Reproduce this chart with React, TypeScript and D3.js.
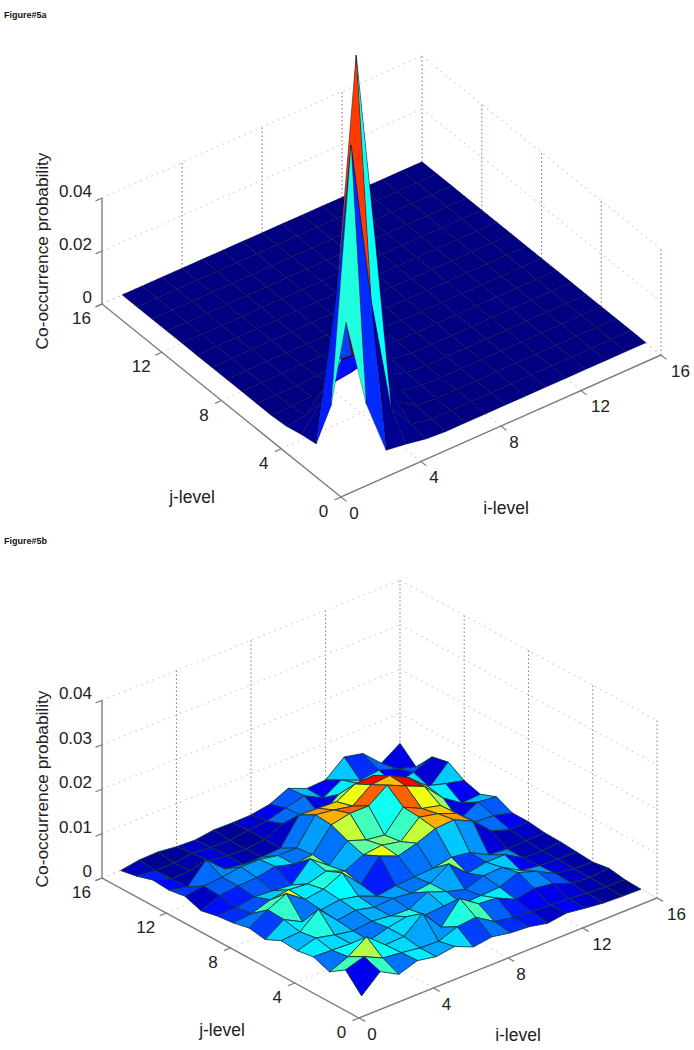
import React from "react";
import * as d3 from "d3";

// Heights in units of 1e-4; rows run j=16..1, columns i=1..16
const zRowsA: number[][] = [
  [1,1,1,1,1,1,1,1,1,1,1,1,1,1,1,1],
  [1,1,1,1,1,1,1,1,1,1,1,1,1,1,1,1],
  [1,1,1,1,1,1,1,1,1,1,1,1,1,1,1,1],
  [1,1,1,1,1,1,1,1,1,1,1,1,1,1,1,1],
  [1,1,1,1,1,1,1,1,1,1,1,2,1,1,1,1],
  [1,1,1,1,1,1,1,1,1,1,2,1,1,1,1,1],
  [1,1,1,1,1,1,1,1,1,3,1,1,1,1,1,1],
  [1,1,1,1,1,1,1,1,4,1,1,1,1,1,1,1],
  [1,1,1,1,1,1,1,5,1,1,1,1,1,1,1,1],
  [1,1,1,5,8,12,15,3,1,1,1,1,1,1,1,1],
  [1,1,8,20,30,50,12,1,1,1,1,1,1,1,1,1],
  [6,15,100,200,180,30,8,1,1,1,1,1,1,1,1,1],
  [20,110,234,230,150,20,5,1,1,1,1,1,1,1,1,1],
  [30,550,1430,660,60,8,1,1,1,1,1,1,1,1,1,1],
  [220,1170,550,110,15,2,1,1,1,1,1,1,1,1,1,1],
  [580,240,30,20,6,1,1,1,1,1,1,1,1,1,1,1],
];
const zRowsB: number[][] = [
  [0,7,8,3,1,7,6,7,14,33,16,18,53,44,5,33],
  [7,2,3,8,4,3,9,13,25,36,14,38,20,26,12,0],
  [18,4,5,10,5,3,8,27,28,12,42,50,42,14,24,42],
  [15,5,49,12,5,5,8,66,64,62,85,87,30,40,10,50],
  [21,27,30,36,36,28,28,86,80,72,103,107,85,50,38,28],
  [8,25,30,32,40,28,33,83,92,92,122,103,85,42,14,17],
  [16,18,25,22,18,60,28,67,52,46,92,72,62,12,36,31],
  [20,24,38,44,40,52,35,55,60,51,89,80,64,28,25,14],
  [28,52,72,42,48,68,25,72,55,67,83,86,66,27,13,14],
  [22,50,28,38,44,35,18,25,28,30,38,32,10,6,8,9],
  [39,42,76,34,40,30,33,28,33,60,22,30,30,6,5,8],
  [36,48,38,30,35,30,28,50,34,22,36,38,14,8,6,5],
  [42,40,38,28,40,48,35,38,26,28,30,46,32,10,4,2],
  [28,45,73,38,40,75,27,75,46,42,22,30,24,8,4,8],
  [52,65,45,40,34,32,48,52,26,18,14,12,10,5,3,2],
  [13,51,28,42,34,40,22,28,20,17,8,14,8,3,1,0],
];
const levelTicks = [0, 4, 8, 12, 16];
const zTicksA = [0, 0.02, 0.04];
const zTicksB = [0, 0.01, 0.02, 0.03, 0.04];
const cellColourA = [
  { i: 3, j: 4, value: 20 },
  { i: 4, j: 3, value: 30 },
  { i: 2, j: 4, value: 15 },
  { i: 4, j: 2, value: 30 },
  { i: 3, j: 5, value: 10 },
  { i: 5, j: 3, value: 10 },
  { i: 2, j: 5, value: 5 },
  { i: 5, j: 2, value: 5 },
];
const cellColourB = [{ i: 11, j: 11, value: 81 }];
const foldA = [
  { i: 1, j: 1, z: 580 },
  { i: 1, j: 1.53, z: 415 },
  { i: 1.3, j: 1, z: 446 },
];

const FONT = "'Liberation Sans', Arial, sans-serif";
const clamp = (v: number) => Math.max(0, Math.min(1, v));
const jet = (t: number) => {
  const f = (c: number) => Math.round(255 * clamp(1.5 - Math.abs(4 * t - c)));
  return d3.rgb(f(3), f(2), f(1)).formatHex();
};

type Geo = {
  front: [number, number];
  left: [number, number];
  right: [number, number];
};

function Panel(props: {
  label: string;
  labelY: number;
  geo: Geo;
  zPx: number; // pixels per unit of z
  zRows: number[][];
  zTicks: number[];
  zFmt: (v: number) => string;
  clim: number;
  edge: string;
  edgeWidth: number;
  vCol: string;
  overrides?: { i: number; j: number; value: number }[];
  fold?: { i: number; j: number; z: number }[];
  titleY: number;
  jPos: [number, number];
  iPos: [number, number];
}) {
  const { geo, zRows, zTicks, zFmt, clim, edge, edgeWidth, vCol, zPx } = props;
  const [fx, fy] = geo.front;
  const ixS = d3.scaleLinear().domain([0, 16]).range([0, geo.right[0] - fx]);
  const iyS = d3.scaleLinear().domain([0, 16]).range([0, geo.right[1] - fy]);
  const jxS = d3.scaleLinear().domain([0, 16]).range([0, geo.left[0] - fx]);
  const jyS = d3.scaleLinear().domain([0, 16]).range([0, geo.left[1] - fy]);
  const zS = d3.scaleLinear().domain([0, 1]).range([0, zPx]);
  const P = (i: number, j: number, z: number): [number, number] => [
    fx + ixS(i) + jxS(j),
    fy + iyS(i) + jyS(j) - zS(z),
  ];
  const zAt = (i: number, j: number) => zRows[16 - j][i - 1] * 1e-4;
  const line = d3.line();

  const cells: { k: string; d: string; c: string }[] = [];
  for (let v = 30; v >= 2; v--) {
    for (let i = 1; i <= 15; i++) {
      const j = v - i;
      if (j < 1 || j > 15) continue;
      if (props.fold && i === 1 && j === 1) {
        const pts = props.fold.map((q) => P(q.i, q.j, q.z * 1e-4));
        cells.push({ k: "fold", d: line(pts) + "Z", c: "#0a3ff0" });
      }
      const ov = props.overrides?.find((o) => o.i === i && o.j === j);
      const val = ov ? ov.value : zRows[16 - j][i - 1];
      const pts: [number, number][] = [
        P(i, j, zAt(i, j)),
        P(i + 1, j, zAt(i + 1, j)),
        P(i + 1, j + 1, zAt(i + 1, j + 1)),
        P(i, j + 1, zAt(i, j + 1)),
      ];
      cells.push({ k: `${i}-${j}`, d: line(pts) + "Z", c: jet(val / clim) });
    }
  }

  const zMax = zTicks[zTicks.length - 1];
  const pale = "#dcc8c8";
  const grid: React.ReactNode[] = [];
  const seg = (k: string, a: [number, number], b: [number, number], col: string, dash: string, w = 1) =>
    grid.push(<line key={k} x1={a[0]} y1={a[1]} x2={b[0]} y2={b[1]} stroke={col} strokeWidth={w} strokeDasharray={dash} />);
  levelTicks.forEach((t) => {
    if (t !== 0) seg(`vl${t}`, P(t, 16, 0), P(t, 16, zMax), vCol, "1.5 2.5", 1.1);
    if (t !== 16) seg(`vr${t}`, P(16, t, 0), P(16, t, zMax), vCol, "1.5 2.5", 1.1);
    seg(`fi${t}`, P(t, 0, 0), P(t, 16, 0), pale, "1.5 4.5", 1.2);
    seg(`fj${t}`, P(0, t, 0), P(16, t, 0), pale, "1.5 4.5", 1.2);
  });
  zTicks.forEach((z) => {
    seg(`wl${z}`, P(0, 16, z), P(16, 16, z), pale, "1.5 4.5", 1.2);
    seg(`wr${z}`, P(16, 16, z), P(16, 0, z), pale, "1.5 4.5", 1.2);
  });

  const axisCol = "#857b7b";
  const tickLen = 7;
  const unit = (a: [number, number], b: [number, number]): [number, number] => {
    const dx = b[0] - a[0], dy = b[1] - a[1], m = Math.hypot(dx, dy);
    return [(dx / m) * tickLen, (dy / m) * tickLen];
  };
  const uI = unit(P(1, 0, 0), P(0, 0, 0));
  const uJ = unit(P(0, 1, 0), P(0, 0, 0));
  const tickText: React.CSSProperties = { fontFamily: FONT, fontSize: 17, fill: "#222" };

  return (
    <g>
      <text x={4} y={props.labelY} style={{ fontFamily: FONT, fontSize: 9, fontWeight: 700, fill: "#111" }}>{props.label}</text>
      {grid}
      <path d={line([P(0, 16, zMax), P(0, 16, 0), P(0, 0, 0), P(16, 0, 0)]) as string} fill="none" stroke={axisCol} strokeWidth={1.4} />
      {zTicks.map((z) => {
        const a = P(0, 16, z);
        return (
          <g key={`zt${z}`}>
            <line x1={a[0]} y1={a[1]} x2={a[0] + uI[0]} y2={a[1] + uI[1]} stroke={axisCol} strokeWidth={1.2} />
            <text x={a[0] - 10} y={a[1] - 6.5} textAnchor="end" dominantBaseline="central" style={tickText}>{zFmt(z)}</text>
          </g>
        );
      })}
      {levelTicks.map((t) => {
        const a = P(0, t, 0);
        const b = P(t, 0, 0);
        const two = t >= 12;
        return (
          <g key={`lt${t}`}>
            <line x1={a[0]} y1={a[1]} x2={a[0] + uI[0]} y2={a[1] + uI[1]} stroke={axisCol} strokeWidth={1.2} />
            <line x1={b[0]} y1={b[1]} x2={b[0] + uJ[0]} y2={b[1] + uJ[1]} stroke={axisCol} strokeWidth={1.2} />
            <text x={a[0] + (two ? -20.5 : -17.5)} y={a[1] + 14.5} textAnchor="middle" dominantBaseline="central" style={tickText}>{t}</text>
            <text x={b[0] + (two ? 19.5 : 13)} y={b[1] + 16} textAnchor="middle" dominantBaseline="central" style={tickText}>{t}</text>
          </g>
        );
      })}
      {cells.map((c) => (
        <path key={c.k} d={c.d} fill={c.c} stroke={edge} strokeWidth={edgeWidth} strokeLinejoin="round" />
      ))}
      <text transform={`translate(48,${props.titleY}) rotate(-90)`} textAnchor="middle" style={{ fontFamily: FONT, fontSize: 17.3, fill: "#222" }}>
        Co-occurrence probability
      </text>
      <text x={props.jPos[0]} y={props.jPos[1]} textAnchor="middle" dominantBaseline="central" style={{ fontFamily: FONT, fontSize: 17.5, fill: "#222" }}>j-level</text>
      <text x={props.iPos[0]} y={props.iPos[1]} textAnchor="middle" dominantBaseline="central" style={{ fontFamily: FONT, fontSize: 17.5, fill: "#222" }}>i-level</text>
    </g>
  );
}

export default function App() {
  const fmt = (v: number) => (v === 0 ? "0" : v.toFixed(2));
  return (
    <svg width={694} height={1050} viewBox="0 0 694 1050" style={{ position: "absolute", left: 0, top: 0, background: "#fff" }}>
      <Panel
        label="Figure#5a"
        labelY={18}
        geo={{ front: [341, 497], left: [102, 304], right: [661, 355] }}
        zPx={2650}
        zRows={zRowsA}
        zTicks={zTicksA}
        zFmt={fmt}
        clim={1430}
        edge="rgba(0,0,35,0.5)"
        edgeWidth={0.6}
        vCol="#a86e72"
        fold={foldA}
        overrides={cellColourA}
        titleY={251}
        jPos={[192, 497]}
        iPos={[506, 508]}
      />
      <Panel
        label="Figure#5b"
        labelY={544}
        geo={{ front: [359, 1018], left: [102, 878], right: [657, 898] }}
        zPx={4440}
        zRows={zRowsB}
        zTicks={zTicksB}
        zFmt={fmt}
        clim={118}
        edge="#12383f"
        edgeWidth={0.9}
        vCol="#8f8a8a"
        overrides={cellColourB}
        titleY={789}
        jPos={[222, 1030]}
        iPos={[518, 1035]}
      />
    </svg>
  );
}
